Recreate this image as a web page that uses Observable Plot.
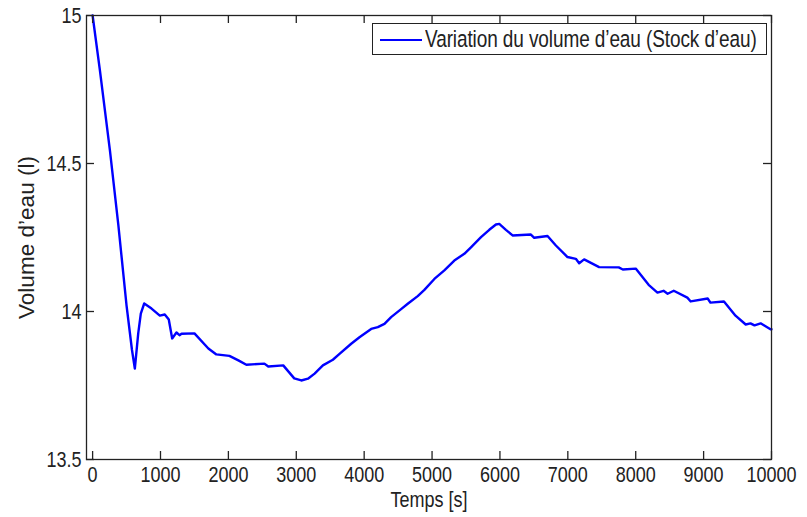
<!DOCTYPE html>
<html>
<head>
<meta charset="utf-8">
<script src="https://cdn.jsdelivr.net/npm/d3@7"></script>
<script src="https://cdn.jsdelivr.net/npm/@observablehq/plot@0.6"></script>
<style>
  html, body { margin: 0; padding: 0; background: #fff; }
  #wrap { position: relative; width: 807px; height: 517px; font-family: "Liberation Sans", Arial, sans-serif; }
  #legend { position: absolute; left: 372px; top: 23px; width: 395px; height: 32px; border: 1.3px solid #222; background: #fff; box-sizing: border-box; }
  #legend .swatch { position: absolute; left: 7px; top: 14.5px; width: 42px; height: 0; border-top: 2.6px solid #0000ff; }
  #legend .txt { position: absolute; left: 52px; top: 2px; font-size: 19px; line-height: 26px; color: #222; white-space: nowrap; transform: scaleY(1.25); transform-origin: 0 50%; letter-spacing: -0.1px; }
</style>
</head>
<body>
<div id="wrap"></div>
<script>
// Time (s)
const time = [0, 108, 255, 380, 500, 580, 622, 672, 710, 760, 868, 990, 1063, 1122, 1172, 1235, 1280, 1310, 1500, 1705, 1823, 2015, 2147, 2265, 2530, 2588, 2808, 2970, 3074, 3172, 3270, 3392, 3539, 3637, 3809, 3931, 4103, 4201, 4299, 4397, 4544, 4642, 4789, 4887, 5034, 5181, 5328, 5475, 5573, 5721, 5843, 5941, 5990, 6088, 6186, 6456, 6505, 6701, 6824, 6995, 7118, 7167, 7240, 7461, 7750, 7810, 8000, 8190, 8320, 8410, 8470, 8560, 8760, 8810, 9060, 9100, 9300, 9470, 9620, 9690, 9750, 9840, 9985, 10000];
// Water volume (l)
const volume = [15, 14.814, 14.544, 14.29, 14.02, 13.87, 13.807, 13.926, 13.993, 14.027, 14.01, 13.986, 13.99, 13.973, 13.909, 13.929, 13.92, 13.925, 13.926, 13.875, 13.855, 13.85, 13.835, 13.82, 13.824, 13.814, 13.818, 13.774, 13.767, 13.773, 13.79, 13.818, 13.837, 13.857, 13.891, 13.913, 13.941, 13.947, 13.958, 13.981, 14.008, 14.026, 14.052, 14.073, 14.11, 14.139, 14.172, 14.195, 14.217, 14.251, 14.276, 14.294, 14.296, 14.276, 14.257, 14.26, 14.249, 14.255, 14.223, 14.184, 14.178, 14.163, 14.176, 14.15, 14.149, 14.142, 14.145, 14.09, 14.064, 14.07, 14.06, 14.07, 14.047, 14.034, 14.044, 14.03, 14.034, 13.986, 13.956, 13.96, 13.953, 13.96, 13.94, 13.94];
const xTicks = [0, 1000, 2000, 3000, 4000, 5000, 6000, 7000, 8000, 9000, 10000];
const yTicks = [13.5, 14, 14.5, 15];
const seriesName = "Variation du volume d’eau (Stock d’eau)";
const xLabel = "Temps [s]";
const yLabel = "Volume d’eau (l)";

const data = time.map((t, i) => ({t, v: volume[i]}));

const W = 807, H = 517, mL = 86, mR = 36, mT = 15, mB = 58;
const innerH = H - mT - mB, innerW = W - mL - mR;
const tk = 8;

const chart = Plot.plot({
  width: W, height: H,
  marginLeft: mL, marginRight: mR, marginTop: mT, marginBottom: mB,
  style: {fontFamily: "'Liberation Sans', Arial, sans-serif", fontSize: "18px", color: "#222", background: "#fff"},
  x: {domain: [-90, 10000]},
  y: {domain: [13.5, 15]},
  marks: [
    Plot.line(data, {x: "t", y: "v", stroke: "#0000ff", strokeWidth: 2.4, strokeLinejoin: "round"}),
    Plot.frame({stroke: "#222", strokeWidth: 1.3}),
    Plot.tickX(xTicks, {x: d => d, insetTop: innerH - tk, stroke: "#222", strokeWidth: 1.3}),
    Plot.tickX(xTicks, {x: d => d, insetBottom: innerH - tk, stroke: "#222", strokeWidth: 1.3}),
    Plot.tickY(yTicks, {y: d => d, insetRight: innerW - tk, stroke: "#222", strokeWidth: 1.3}),
    Plot.tickY(yTicks, {y: d => d, insetLeft: innerW - tk, stroke: "#222", strokeWidth: 1.3}),
    Plot.axisX(xTicks, {tickSize: 0, tickPadding: 7, tickFormat: d3.format("d"), label: xLabel, labelAnchor: "center", labelArrow: "none", labelOffset: 47}),
    Plot.axisY(yTicks, {tickSize: 0, tickPadding: 5, tickFormat: d => String(d), label: yLabel, labelAnchor: "center", labelArrow: "none", labelOffset: 68})
  ]
});
const wrap = document.getElementById("wrap");
wrap.appendChild(chart);

// legend overlay
const leg = document.createElement("div");
leg.id = "legend";
leg.innerHTML = `<div class="swatch"></div><div class="txt"></div>`;
leg.querySelector(".txt").textContent = seriesName;
wrap.appendChild(leg);

// elongate the lettering vertically, as in the reference
const texts = [...chart.querySelectorAll("text")];
for (const t of texts) {
  if (t.textContent === yLabel) {
    t.setAttribute("font-size", "22px");
    t.setAttribute("textLength", 163);
    t.setAttribute("lengthAdjust", "spacingAndGlyphs");
    continue;
  }
  const tr = t.getAttribute("transform");
  if (tr) {
    t.setAttribute("transform", tr + " scale(1,1.25)");
  } else {
    const x = +(t.getAttribute("x") || 0), y = +(t.getAttribute("y") || 0);
    t.setAttribute("transform", `translate(${x},${y}) scale(1,1.25) translate(${-x},${-y})`);
  }
}
</script>
</body>
</html>
